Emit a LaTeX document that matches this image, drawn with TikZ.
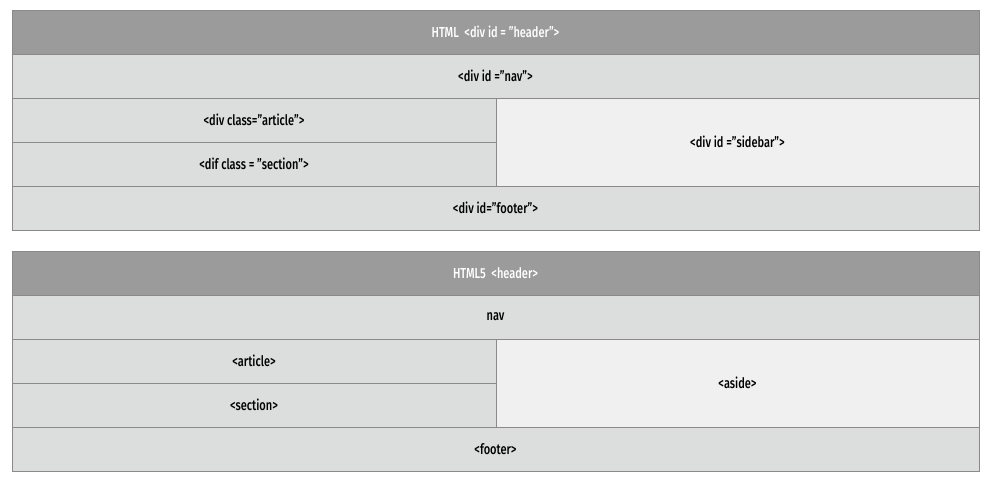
\documentclass[tikz,border=0pt]{standalone}
\usepackage{fontspec}
\setmainfont{Fira Sans Medium}[FakeStretch=0.76]
\usepackage{tikz}
\definecolor{hdrgray}{HTML}{9B9B9B}
\definecolor{rowgray}{HTML}{DCDEDD}
\definecolor{sidegray}{HTML}{F0F0F0}
\definecolor{edgegray}{HTML}{8A8A8A}
\tikzset{
  cell/.style={draw=edgegray,line width=0.8pt,fill=rowgray,inner sep=0pt,outer sep=0pt,
    font=\fontsize{14.5}{16}\selectfont,text=black},
  wide/.style={cell,minimum width=967pt,minimum height=44pt},
  half/.style={cell,minimum width=484pt,minimum height=44pt},
  side/.style={cell,fill=sidegray,minimum width=483pt,minimum height=88pt},
  hdr/.style={wide,fill=hdrgray,text=white}
}
\begin{document}
\begin{tikzpicture}[x=1pt,y=-1pt]
                      \useasboundingbox (0,0) rectangle (989,483);
                      % HTML layout
                      \node[hdr]  (hdrA)  at (495.5,32)  {HTML\ \ <div id = "header">};
                      \node[wide] (navA)  at (495.5,76)  {<div id ="nav">};
                      \node[half] (artA)  at (254,120)   {<div class="article">};
                      \node[half] (secA)  at (254,164)   {<dif class = "section">};
                      \node[side] (sideA) at (737.5,142) {<div id ="sidebar">};
                      \node[wide] (footA) at (495.5,208) {<div id="footer">};

                      % HTML5 layout
                      \node[hdr]  (hdrB)  at (495.5,273) {HTML5\ \ <header>};
                      \node[wide] (navB)  at (495.5,317) {nav};
                      \node[half] (artB)  at (254,361)   {<article>};
                      \node[half] (secB)  at (254,405)   {<section>};
                      \node[side] (sideB) at (737.5,383) {<aside>};
                      \node[wide] (footB) at (495.5,449) {<footer>};
                \end{tikzpicture}
\end{document}
